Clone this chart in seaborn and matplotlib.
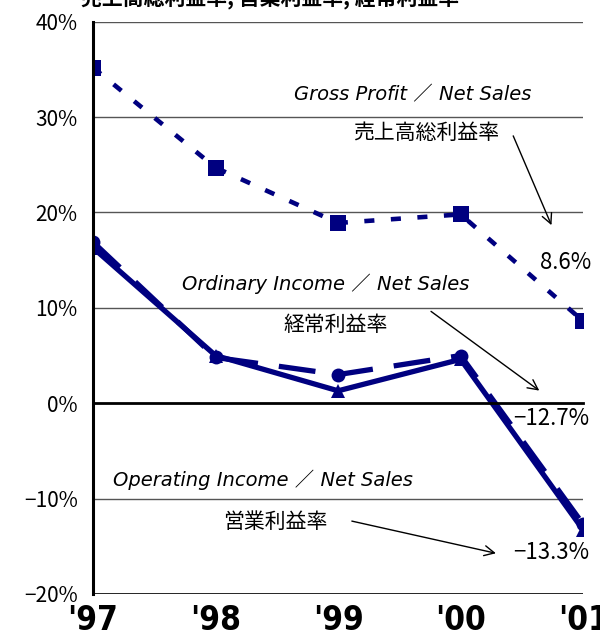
import numpy as np
import pandas as pd
import matplotlib
matplotlib.use('Agg')
import matplotlib.pyplot as plt
import seaborn as sns

# 年度と各利益率（%）
years = ["'97", "'98", "'99", "'00", "'01"]
gross_profit = [35.2, 24.7, 18.9, 19.8, 8.6]        # 売上高総利益率
ordinary_income = [16.9, 4.8, 3.0, 5.0, -12.7]     # 経常利益率
operating_income = [16.3, 5.0, 1.3, 4.6, -13.3]    # 営業利益率
y_ticks = [-20, -10, 0, 10, 20, 30, 40]
y_labels = ['\u221220%', '\u221210%', '0%', '10%', '20%', '30%', '40%']

df = pd.DataFrame({'x': range(len(years)), 'gross': gross_profit,
                   'ordinary': ordinary_income, 'operating': operating_income})

sns.set_style('white')
plt.rcParams['font.family'] = ['Noto Sans CJK JP', 'DejaVu Sans']
plt.rcParams['text.color'] = 'black'
plt.rcParams['xtick.color'] = 'black'
plt.rcParams['ytick.color'] = 'black'
NAVY = '#000080'

fig = plt.figure(figsize=(6, 6.4), dpi=100)
ax = fig.add_axes([0.155, 0.072, 0.817, 0.894])

# グリッド線
for v in [-10, 10, 20, 30, 40]:
    ax.axhline(v, color='#555555', lw=1, zorder=0)
ax.axhline(-20, color='black', lw=1.2, zorder=0)

sns.lineplot(data=df, x='x', y='gross', ax=ax, color=NAVY, lw=3.3,
             linestyle=(0, (2.2, 3.6)), marker='s', markersize=11, markeredgewidth=0)
sns.lineplot(data=df, x='x', y='ordinary', ax=ax, color=NAVY, lw=3.8,
             linestyle=(0, (7, 4)), marker='o', markersize=10, markeredgewidth=0)
sns.lineplot(data=df, x='x', y='operating', ax=ax, color=NAVY, lw=3.8,
             linestyle='-', marker='^', markersize=10, markeredgewidth=0)

ax.set_xlim(0, 4.0)
ax.set_ylim(-20, 40)
ax.set_xlabel('')
ax.set_ylabel('')

# 軸
for s in ['top', 'right']:
    ax.spines[s].set_visible(False)
ax.spines['left'].set_linewidth(2.2)
ax.spines['left'].set_color('black')
ax.spines['bottom'].set_position(('data', 0))
ax.spines['bottom'].set_linewidth(2)
ax.spines['bottom'].set_color('black')
ax.set_xticks(range(len(years)))
ax.tick_params(axis='x', direction='in', length=10, width=2, color='black',
               labelbottom=False)
ax.set_yticks(y_ticks, labels=y_labels)
ax.tick_params(axis='y', direction='out', length=7, width=2, color='black',
               labelsize=15, pad=4)

sec = ax.secondary_xaxis(0)
sec.set_xticks(range(len(years)), labels=years)
sec.tick_params(length=0, labelsize=24, pad=7)
for lab in sec.get_xticklabels():
    lab.set_fontweight('bold')
    lab.set_family(['DejaVu Sans'])
    lab.set_fontstretch('condensed')
sec.spines['bottom'].set_visible(False)

# 注記
ital = dict(style='italic', family=['DejaVu Sans', 'Noto Sans CJK JP'],
            fontsize=14, ha='center', va='center')
jp = dict(fontsize=15, ha='center', va='center')
ax.text(2.61, 32.3, 'Gross Profit \uff0f Net Sales', **ital)
ax.text(1.90, 12.5, 'Ordinary Income \uff0f Net Sales', **ital)
ax.text(1.39, -8.0, 'Operating Income \uff0f Net Sales', **ital)
ax.text(2.72, 28.3, '売上高総利益率', **jp)
ax.text(1.98, 8.2, '経常利益率', **jp)
ax.text(1.49, -12.5, '営業利益率', **jp)

arrow = dict(arrowstyle='->', color='black', lw=1, mutation_scale=18)
ax.annotate('', xy=(3.75, 18.4), xytext=(3.42, 28.3), arrowprops=arrow)
ax.annotate('', xy=(3.66, 1.15), xytext=(2.74, 9.8), arrowprops=arrow)
ax.annotate('', xy=(3.31, -15.8), xytext=(2.09, -12.3), arrowprops=arrow)

val = dict(fontsize=16, ha='center', va='center')
ax.text(3.86, 14.8, f'{gross_profit[-1]:.1f}%', **val)
ax.text(3.74, -1.6, f'\u2212{abs(ordinary_income[-1]):.1f}%', **val)
ax.text(3.74, -15.7, f'\u2212{abs(operating_income[-1]):.1f}%', **val)

fig.text(0.45, 1.003, '売上高総利益率, 営業利益率, 経常利益率',
         fontsize=15, fontweight='bold', ha='center', va='center')

fig.savefig('out.png', dpi=100)
